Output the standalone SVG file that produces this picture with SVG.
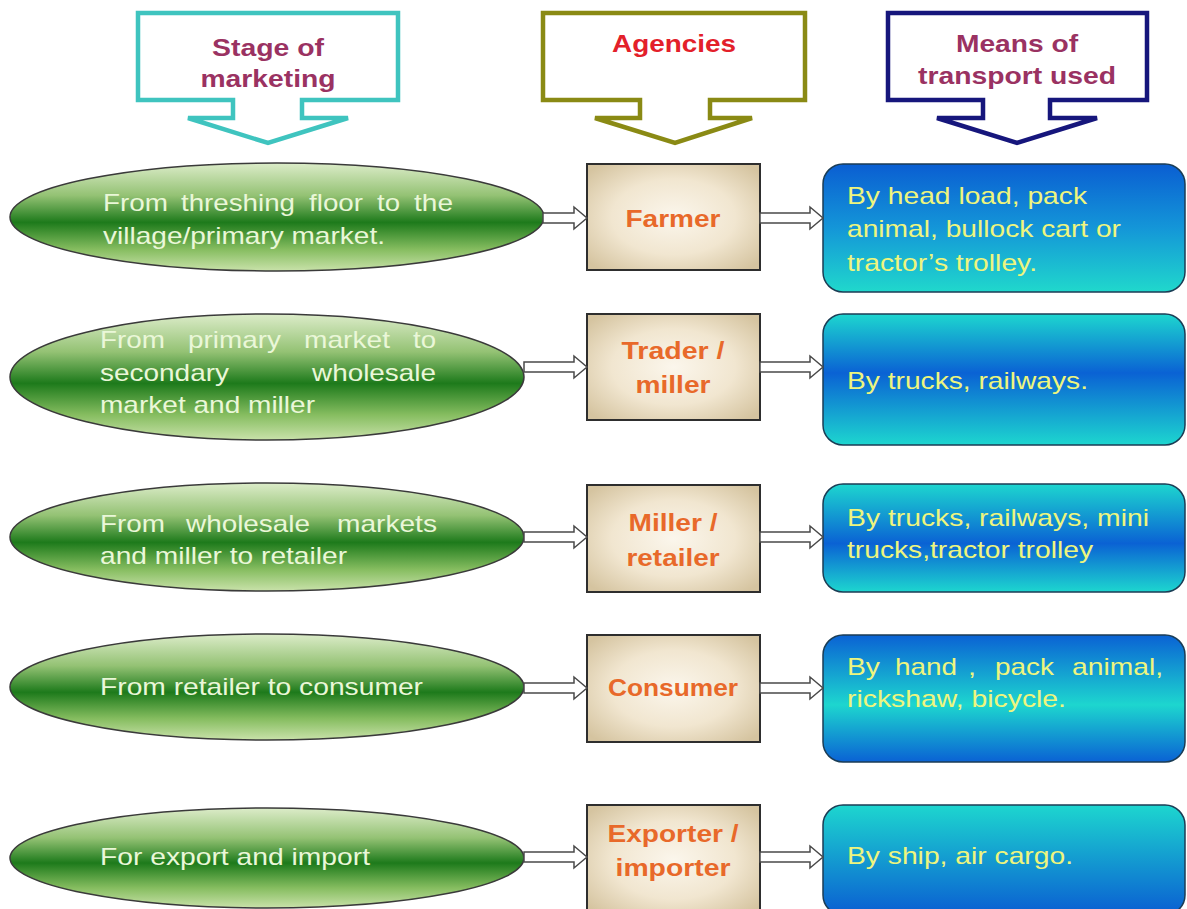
<svg xmlns="http://www.w3.org/2000/svg" width="1187" height="909" viewBox="0 0 1187 909">
<defs>
<linearGradient id="gEll" x1="0" y1="0" x2="0" y2="1">
<stop offset="0" stop-color="#dcecc9"/>
<stop offset="0.3" stop-color="#94c274"/>
<stop offset="0.55" stop-color="#1d7a1b"/>
<stop offset="0.8" stop-color="#86bd60"/>
<stop offset="1" stop-color="#c9e2aa"/>
</linearGradient>
<radialGradient id="gBox" cx="0.5" cy="0.5" r="0.65">
<stop offset="0" stop-color="#fbf6ec"/>
<stop offset="0.55" stop-color="#f1e6d0"/>
<stop offset="1" stop-color="#d5c4a0"/>
</radialGradient>
<linearGradient id="gB1" x1="0" y1="0" x2="0" y2="1">
<stop offset="0" stop-color="#0a5ed2"/>
<stop offset="0.5" stop-color="#1496d8"/>
<stop offset="1" stop-color="#20d8cc"/>
</linearGradient>
<linearGradient id="gB2" x1="0" y1="0" x2="0" y2="1">
<stop offset="0" stop-color="#1dd6cf"/>
<stop offset="0.45" stop-color="#0a62d4"/>
<stop offset="1" stop-color="#1dd6cf"/>
</linearGradient>
<linearGradient id="gB3" x1="0" y1="0" x2="0" y2="1">
<stop offset="0" stop-color="#1dd6cf"/>
<stop offset="0.55" stop-color="#0a62d4"/>
<stop offset="1" stop-color="#1dd6cf"/>
</linearGradient>
<linearGradient id="gB4" x1="0" y1="0" x2="0" y2="1">
<stop offset="0" stop-color="#0a62d4"/>
<stop offset="0.55" stop-color="#1dd6cf"/>
<stop offset="1" stop-color="#0a62d4"/>
</linearGradient>
<linearGradient id="gB5" x1="0" y1="0" x2="0" y2="1">
<stop offset="0" stop-color="#1dd6cf"/>
<stop offset="1" stop-color="#0a5ed2"/>
</linearGradient>
</defs>
<style>
.hdr{fill:#ffffff;stroke-width:4.5;stroke-linejoin:miter}
.ht{font-family:"Liberation Sans",Arial,sans-serif;font-weight:bold;font-size:24px;fill:#9a3262;text-anchor:middle}
.ell{fill:url(#gEll);stroke:#3a3a3a;stroke-width:1.5}
.et{font-family:"Liberation Sans",Arial,sans-serif;font-size:24px;fill:#eaf7d8}
.box{fill:url(#gBox);stroke:#2e2e2e;stroke-width:2}
.bt{font-family:"Liberation Sans",Arial,sans-serif;font-weight:bold;font-size:24px;fill:#e8692a;text-anchor:middle}
.blu{stroke:#1b3d55;stroke-width:1.5}
.tt{font-family:"Liberation Sans",Arial,sans-serif;font-size:24px;fill:#eef57e}
.arr{fill:#ffffff;stroke:#4a4a4a;stroke-width:1.5;stroke-linejoin:miter}
</style>
<rect width="1187" height="909" fill="#ffffff"/>

<g id="hdr-stage">
<path class="hdr" stroke="#3fc4bf" d="M138,13 H398 V100 H302 V118 H348 L268,143 L188,118 H233 V100 H138 Z"/>
<text class="ht" x="268" y="56" textLength="112" lengthAdjust="spacingAndGlyphs">Stage of</text>
<text class="ht" x="268" y="87" textLength="135" lengthAdjust="spacingAndGlyphs">marketing</text>
</g>
<g id="hdr-agencies">
<path class="hdr" stroke="#8a8a14" d="M543,13 H805 V100 H710 V118 H752 L675,143 L595,118 H640 V100 H543 Z"/>
<text class="ht" x="674" y="52" fill="#e3202a" style="fill:#e3202a" textLength="124" lengthAdjust="spacingAndGlyphs">Agencies</text>
</g>
<g id="hdr-means">
<path class="hdr" stroke="#16167c" d="M888,13 H1147 V100 H1050 V118 H1097 L1017,143 L937,118 H983 V100 H888 Z"/>
<text class="ht" x="1017" y="52" textLength="122" lengthAdjust="spacingAndGlyphs">Means of</text>
<text class="ht" x="1017" y="84" textLength="198" lengthAdjust="spacingAndGlyphs">transport used</text>
</g>

<g id="stage1">
<ellipse class="ell" cx="277" cy="217" rx="267" ry="54"/>
<text class="et" y="211"><tspan x="103" textLength="65" lengthAdjust="spacingAndGlyphs">From</tspan><tspan x="181" textLength="114" lengthAdjust="spacingAndGlyphs">threshing</tspan><tspan x="309" textLength="54" lengthAdjust="spacingAndGlyphs">floor</tspan><tspan x="377" textLength="23" lengthAdjust="spacingAndGlyphs">to</tspan><tspan x="414" textLength="39" lengthAdjust="spacingAndGlyphs">the</tspan></text>
<text class="et" x="103" y="244" textLength="282" lengthAdjust="spacingAndGlyphs">village/primary market.</text>
</g>
<g id="stage2">
<ellipse class="ell" cx="267" cy="377" rx="257" ry="63"/>
<text class="et" y="348"><tspan x="100" textLength="65" lengthAdjust="spacingAndGlyphs">From</tspan><tspan x="188" textLength="93" lengthAdjust="spacingAndGlyphs">primary</tspan><tspan x="304" textLength="86" lengthAdjust="spacingAndGlyphs">market</tspan><tspan x="413" textLength="23" lengthAdjust="spacingAndGlyphs">to</tspan></text>
<text class="et" y="381"><tspan x="100" textLength="129" lengthAdjust="spacingAndGlyphs">secondary</tspan><tspan x="312" textLength="124" lengthAdjust="spacingAndGlyphs">wholesale</tspan></text>
<text class="et" x="100" y="413" textLength="215" lengthAdjust="spacingAndGlyphs">market and miller</text>
</g>
<g id="stage3">
<ellipse class="ell" cx="267" cy="537" rx="257" ry="54"/>
<text class="et" y="532"><tspan x="100" textLength="65" lengthAdjust="spacingAndGlyphs">From</tspan><tspan x="186" textLength="124" lengthAdjust="spacingAndGlyphs">wholesale</tspan><tspan x="337" textLength="100" lengthAdjust="spacingAndGlyphs">markets</tspan></text>
<text class="et" x="100" y="564" textLength="247" lengthAdjust="spacingAndGlyphs">and miller to retailer</text>
</g>
<g id="stage4">
<ellipse class="ell" cx="267" cy="687" rx="257" ry="53"/>
<text class="et" x="100" y="695" textLength="323" lengthAdjust="spacingAndGlyphs">From retailer to consumer</text>
</g>
<g id="stage5">
<ellipse class="ell" cx="267" cy="858" rx="257" ry="50"/>
<text class="et" x="100" y="865" textLength="270" lengthAdjust="spacingAndGlyphs">For export and import</text>
</g>

<g id="agency1">
<rect class="box" x="587" y="164" width="173" height="106"/>
<text class="bt" x="673" y="227" textLength="95" lengthAdjust="spacingAndGlyphs">Farmer</text>
</g>
<g id="agency2">
<rect class="box" x="587" y="314" width="173" height="106"/>
<text class="bt" x="673" y="359" textLength="103" lengthAdjust="spacingAndGlyphs">Trader /</text>
<text class="bt" x="673" y="393" textLength="75" lengthAdjust="spacingAndGlyphs">miller</text>
</g>
<g id="agency3">
<rect class="box" x="587" y="485" width="173" height="107"/>
<text class="bt" x="673" y="531" textLength="89" lengthAdjust="spacingAndGlyphs">Miller /</text>
<text class="bt" x="673" y="566" textLength="93" lengthAdjust="spacingAndGlyphs">retailer</text>
</g>
<g id="agency4">
<rect class="box" x="587" y="635" width="173" height="107"/>
<text class="bt" x="673" y="696" textLength="130" lengthAdjust="spacingAndGlyphs">Consumer</text>
</g>
<g id="agency5">
<rect class="box" x="587" y="805" width="173" height="110"/>
<text class="bt" x="673" y="842" textLength="131" lengthAdjust="spacingAndGlyphs">Exporter /</text>
<text class="bt" x="673" y="876" textLength="115" lengthAdjust="spacingAndGlyphs">importer</text>
</g>

<g id="means1">
<rect class="blu" fill="url(#gB1)" x="823" y="164" width="362" height="128" rx="20"/>
<text class="tt" x="847" y="204" textLength="240" lengthAdjust="spacingAndGlyphs">By head load, pack</text>
<text class="tt" x="847" y="237" textLength="274" lengthAdjust="spacingAndGlyphs">animal, bullock cart or</text>
<text class="tt" x="847" y="271" textLength="190" lengthAdjust="spacingAndGlyphs">tractor’s trolley.</text>
</g>
<g id="means2">
<rect class="blu" fill="url(#gB2)" x="823" y="314" width="362" height="131" rx="20"/>
<text class="tt" x="847" y="389" textLength="241" lengthAdjust="spacingAndGlyphs">By trucks, railways.</text>
</g>
<g id="means3">
<rect class="blu" fill="url(#gB3)" x="823" y="484" width="362" height="108" rx="20"/>
<text class="tt" x="847" y="526" textLength="302" lengthAdjust="spacingAndGlyphs">By trucks, railways, mini</text>
<text class="tt" x="847" y="558" textLength="246" lengthAdjust="spacingAndGlyphs">trucks,tractor trolley</text>
</g>
<g id="means4">
<rect class="blu" fill="url(#gB4)" x="823" y="635" width="362" height="127" rx="20"/>
<text class="tt" y="675"><tspan x="847" textLength="33" lengthAdjust="spacingAndGlyphs">By</tspan><tspan x="895" textLength="62" lengthAdjust="spacingAndGlyphs">hand</tspan><tspan x="968" textLength="8" lengthAdjust="spacingAndGlyphs">,</tspan><tspan x="995" textLength="59" lengthAdjust="spacingAndGlyphs">pack</tspan><tspan x="1072" textLength="91" lengthAdjust="spacingAndGlyphs">animal,</tspan></text>
<text class="tt" x="847" y="707" textLength="219" lengthAdjust="spacingAndGlyphs">rickshaw, bicycle.</text>
</g>
<g id="means5">
<rect class="blu" fill="url(#gB5)" x="823" y="805" width="362" height="110" rx="20"/>
<text class="tt" x="847" y="864" textLength="226" lengthAdjust="spacingAndGlyphs">By ship, air cargo.</text>
</g>

<g id="connectors">
<path class="arr" d="M543,213 H574 V207 L587,218 L574,229 V223 H543 Z"/>
<path class="arr" d="M760,213 H810 V207 L823,218 L810,229 V223 H760 Z"/>
<path class="arr" d="M524,362 H574 V356 L587,367 L574,378 V372 H524 Z"/>
<path class="arr" d="M760,362 H810 V356 L823,367 L810,378 V372 H760 Z"/>
<path class="arr" d="M524,532 H574 V526 L587,537 L574,548 V542 H524 Z"/>
<path class="arr" d="M760,532 H810 V526 L823,537 L810,548 V542 H760 Z"/>
<path class="arr" d="M524,683 H574 V677 L587,688 L574,699 V693 H524 Z"/>
<path class="arr" d="M760,683 H810 V677 L823,688 L810,699 V693 H760 Z"/>
<path class="arr" d="M524,852 H574 V846 L587,857 L574,868 V862 H524 Z"/>
<path class="arr" d="M760,852 H810 V846 L823,857 L810,868 V862 H760 Z"/>
</g>
</svg>
